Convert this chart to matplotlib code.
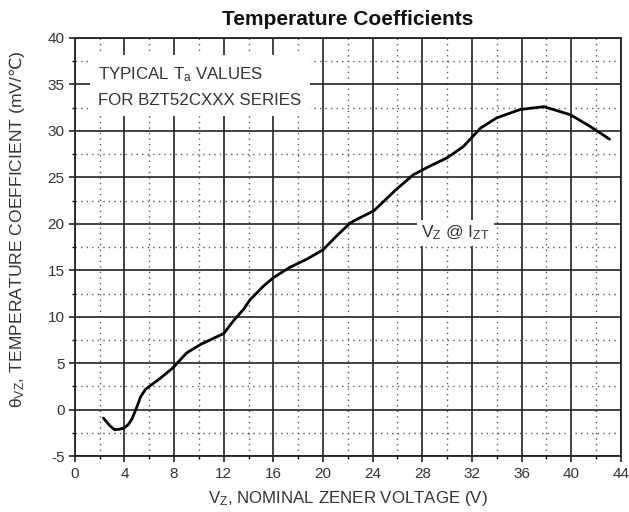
import matplotlib
matplotlib.use('Agg')
import matplotlib.pyplot as plt
from matplotlib.ticker import MultipleLocator

plt.rcParams['font.family'] = ['Liberation Sans', 'DejaVu Sans']
plt.rcParams['mathtext.default'] = 'regular'
plt.rcParams['axes.unicode_minus'] = False

# curve
vz = [2.3, 2.8, 3.2, 3.6, 4.0, 4.3, 4.6, 5.0, 5.3, 5.7, 6.3, 6.9, 7.9, 9.0,
      10.1, 11.2, 12.0, 12.8, 13.6, 14.1, 15.2, 16.0, 17.3, 18.7, 20.0, 21.1,
      22.2, 22.9, 24.1, 25.9, 27.3, 28.6, 30.0, 31.3, 32.7, 34.0, 35.9, 37.8,
      39.9, 41.5, 43.1]
theta = [-0.9, -1.7, -2.15, -2.1, -1.95, -1.6, -1.0, 0.3, 1.4, 2.2, 2.8, 3.4,
         4.5, 6.1, 7.0, 7.7, 8.2, 9.6, 10.8, 11.8, 13.3, 14.2, 15.3, 16.2,
         17.2, 18.7, 20.1, 20.6, 21.4, 23.7, 25.3, 26.2, 27.1, 28.3, 30.3,
         31.4, 32.3, 32.6, 31.75, 30.5, 29.1]

xticks = list(range(0, 45, 4))
yticks = list(range(-5, 41, 5))

text_col = '#333333'

fig = plt.figure(figsize=(6.29, 5.12), dpi=100)
ax = fig.add_axes([0.119, 0.109, 0.868, 0.817])

ax.set_xlim(0, 44)
ax.set_ylim(-5, 40)
ax.set_xticks(xticks)
ax.set_yticks(yticks)
ax.xaxis.set_minor_locator(MultipleLocator(2))
ax.yaxis.set_minor_locator(MultipleLocator(2.5))

ax.grid(which='major', color='#222222', linewidth=1.2, linestyle='-')
ax.grid(which='minor', color='#555555', linewidth=1.0, linestyle=(0, (1, 3)))
ax.set_axisbelow(True)

for s in ax.spines.values():
    s.set_linewidth(1.3)
    s.set_color('#222222')

ax.tick_params(which='major', direction='out', length=4, width=1.2,
               labelsize=11, colors='#222222', labelcolor=text_col)
ax.tick_params(which='minor', direction='out', length=2, width=1.0)

ax.plot(vz, theta, color='black', linewidth=2.0, solid_joinstyle='round',
        solid_capstyle='round', zorder=3)

ax.text(1.9, 34.8, 'TYPICAL T$_{a}$ VALUES\nFOR BZT52CXXX SERIES',
        fontsize=12.2, color=text_col, va='center', ha='left', linespacing=1.75,
        bbox=dict(facecolor='white', edgecolor='none', pad=6), zorder=4)

ax.text(27.9, 19.0, 'V$_{Z}$ @ I$_{ZT}$', fontsize=12.5, color=text_col,
        va='center', ha='left',
        bbox=dict(facecolor='white', edgecolor='none', pad=3), zorder=4)

ax.set_title('Temperature Coefficients', fontsize=15, fontweight='bold',
             color='#111111', pad=9)
ax.set_xlabel('V$_{Z}$, NOMINAL ZENER VOLTAGE (V)', fontsize=12.2,
              color=text_col, labelpad=6)
ax.set_ylabel(r'θ$_{VZ}$, TEMPERATURE COEFFICIENT (mV/$\mathrm{℃}$)',
              fontsize=12.6, color=text_col)
ax.yaxis.set_label_coords(-0.088, 0.543)

fig.savefig('out.png', dpi=100)
